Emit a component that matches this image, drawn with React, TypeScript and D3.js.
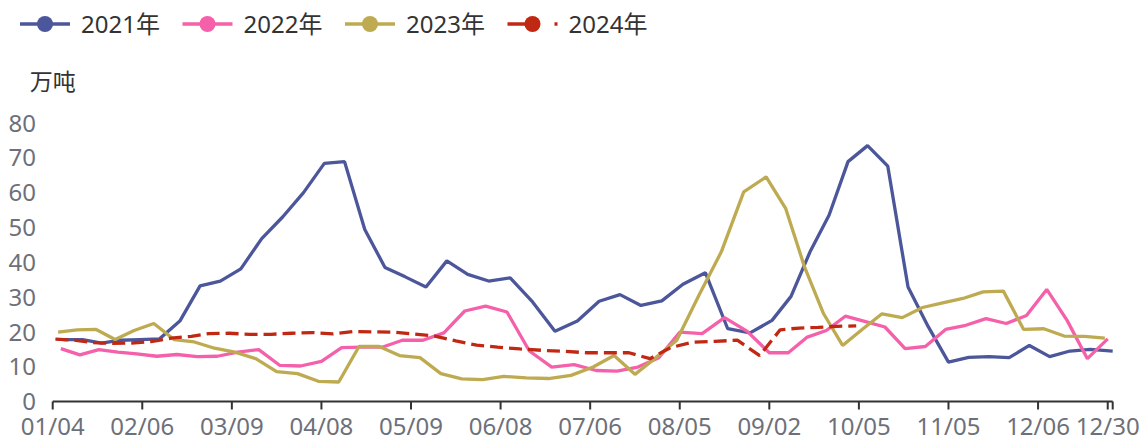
import React, { useEffect, useRef } from "react";
import * as d3 from "d3";

// weekly (Friday) values, 万吨
const seriesNames = ["2021年", "2022年", "2023年", "2024年"];
const seriesColors = ["#4C569A", "#F560AA", "#BEAA50", "#C12814"];
const firstWeek = ["2021-01-08", "2022-01-07", "2023-01-06", "2024-01-05"];

const values2021 = [
  17.8, 17.8, 16.8, 17.6, 17.8, 18.0, 23.1, 33.2, 34.6, 38.1, 46.8, 53.0, 60.0,
  68.4, 68.9, 49.4, 38.5, 35.8, 32.9, 40.4, 36.5, 34.6, 35.5, 28.6, 20.2, 23.1,
  28.8, 30.7, 27.6, 28.9, 33.7, 37.0, 20.9, 19.7, 23.3, 30.2, 43.0, 53.5, 68.9,
  73.5, 67.6, 32.9, 21.5, 11.3, 12.7, 12.9, 12.6, 16.1, 12.9, 14.5, 15.0, 14.5,
];
const values2022 = [
  15.2, 13.4, 14.9, 14.2, 13.7, 13.0, 13.5, 12.9, 13.0, 14.2, 14.9, 10.4, 10.2,
  11.5, 15.5, 15.6, 15.6, 17.6, 17.6, 19.7, 26.0, 27.4, 25.7, 14.5, 9.9, 10.6,
  8.9, 8.7, 9.9, 12.6, 19.9, 19.5, 24.1, 20.2, 14.0, 14.0, 18.5, 20.4, 24.5,
  23.0, 21.4, 15.2, 15.8, 20.7, 21.9, 23.8, 22.4, 24.7, 32.2, 23.3, 12.3, 18.0,
];
const values2023 = [
  19.9, 20.6, 20.7, 17.8, 20.4, 22.4, 17.8, 17.1, 15.3, 14.2, 12.3, 8.6, 8.0,
  5.8, 5.6, 15.8, 15.8, 13.2, 12.6, 8.0, 6.5, 6.3, 7.2, 6.8, 6.6, 7.5, 9.9,
  13.2, 7.8, 12.6, 17.6, 30.5, 43.0, 60.2, 64.5, 55.5, 38.6, 25.2, 16.1, 20.6,
  25.2, 24.1, 27.0, 28.3, 29.6, 31.5, 31.7, 20.7, 20.9, 18.8, 18.7, 18.2,
];
const values2024 = [
  17.9, 17.6, 16.9, 16.7, 16.8, 17.2, 18.2, 18.7, 19.5, 19.6, 19.3, 19.3, 19.6,
  19.8, 19.4, 20.1, 20.0, 19.9, 19.4, 18.8, 17.4, 16.2, 15.6, 15.1, 14.7, 14.4,
  14.0, 14.0, 14.0, 12.3, 15.5, 17.0, 17.3, 17.6, 13.2, 20.6, 21.1, 21.3, 21.6,
  21.7,
];
const seriesValues = [values2021, values2022, values2023, values2024];

// category axis: labelled dates and their category slot
const tickLabels = ["01/04", "02/06", "03/09", "04/08", "05/09", "06/08", "07/06", "08/05", "09/02", "10/05", "11/05", "12/06", "12/30"];
const tickSlots = [0, 18, 36, 54, 72, 90, 108, 126, 144, 162, 180, 198, 212];
const lastLabel = "12/31";
const lastSlot = 213;
const yTicks = [0, 10, 20, 30, 40, 50, 60, 70, 80];

const W = 1146;
const H = 439;
const FONT = "'Noto Sans', 'Noto Sans CJK SC', sans-serif";

const refDay = (m: number, d: number) =>
  d3.timeDay.count(new Date(2021, 0, 1), new Date(2021, m, d));

const App: React.FC = () => {
  const ref = useRef<SVGSVGElement | null>(null);

  useEffect(() => {
    const svg = d3.select(ref.current);
    svg.selectAll("*").remove();
    svg.attr("width", W).attr("height", H);

    const left = 52.7;
    const right = 1112.7;
    const y0 = 401.5;
    const yTop = 123;

    const slotX = d3.scaleLinear().domain([0, lastSlot]).range([left, right]);
    const labelDays = [...tickLabels, lastLabel].map((s) => {
      const [m, d] = s.split("/").map(Number);
      return refDay(m - 1, d);
    });
    const dayToSlot = d3.scaleLinear().domain(labelDays).range([...tickSlots, lastSlot]);
    const y = d3.scaleLinear().domain([0, 80]).range([y0, yTop]);

    const parse = d3.timeParse("%Y-%m-%d");
    const xOf = (dt: Date) => slotX(dayToSlot(refDay(dt.getMonth(), dt.getDate())));

    // y labels
    svg
      .append("g")
      .selectAll("text")
      .data(yTicks)
      .enter()
      .append("text")
      .attr("x", 36)
      .attr("y", (d) => y(d))
      .attr("dy", "0.36em")
      .attr("text-anchor", "end")
      .attr("font-family", FONT)
      .attr("font-size", 24)
      .attr("fill", "#6E7079")
      .text((d) => d);

    svg
      .append("text")
      .attr("x", left)
      .attr("y", 82)
      .attr("dy", "0.35em")
      .attr("text-anchor", "middle")
      .attr("font-family", FONT)
      .attr("font-size", 23)
      .attr("fill", "#333")
      .text("万吨");

    // x axis
    const ax = svg.append("g");
    ax.append("line")
      .attr("x1", left)
      .attr("x2", right)
      .attr("y1", y0)
      .attr("y2", y0)
      .attr("stroke", "#333")
      .attr("stroke-width", 2);
    ax.selectAll("line.tick")
      .data([...tickSlots, lastSlot])
      .enter()
      .append("line")
      .attr("class", "tick")
      .attr("x1", (d) => slotX(d))
      .attr("x2", (d) => slotX(d))
      .attr("y1", y0)
      .attr("y2", y0 + 8)
      .attr("stroke", "#333")
      .attr("stroke-width", 2);
    ax.selectAll("text")
      .data(tickLabels)
      .enter()
      .append("text")
      .attr("x", (_, i) => slotX(tickSlots[i]))
      .attr("y", 435)
      .attr("text-anchor", "middle")
      .attr("font-family", FONT)
      .attr("font-size", 24)
      .attr("fill", "#6E7079")
      .text((d) => d);

    // lines
    const line = d3
      .line<[number, number]>()
      .x((d) => d[0])
      .y((d) => y(d[1]));

    seriesValues.forEach((vals, si) => {
      const start = parse(firstWeek[si]) as Date;
      const pts: [number, number][] = vals.map((v, i) => [xOf(d3.timeDay.offset(start, 7 * i)), v]);
      svg
        .append("path")
        .datum(pts)
        .attr("d", line)
        .attr("fill", "none")
        .attr("stroke", seriesColors[si])
        .attr("stroke-width", 3.3)
        .attr("stroke-linejoin", "bevel")
        .attr("stroke-dasharray", si === 3 ? "13 6" : null);
    });

    // legend
    const lg = svg
      .append("g")
      .selectAll("g")
      .data(seriesNames)
      .enter()
      .append("g")
      .attr("transform", (_, i) => `translate(${20 + i * 162.5}, 24)`);
    lg.append("line")
      .attr("x1", 0)
      .attr("x2", 50)
      .attr("stroke", (_, i) => seriesColors[i])
      .attr("stroke-width", 3.3)
      .attr("stroke-dasharray", (_, i) => (i === 3 ? "22 25 3" : null));
    lg.append("circle")
      .attr("cx", 25)
      .attr("r", 8)
      .attr("fill", (_, i) => seriesColors[i]);
    lg.append("text")
      .attr("x", 61)
      .attr("dy", "0.36em")
      .attr("font-family", FONT)
      .attr("font-size", 24)
      .attr("fill", "#333")
      .text((d) => d);
  }, []);

  return <svg ref={ref} style={{ position: "absolute", left: 0, top: 0 }}></svg>;
};

export default App;
